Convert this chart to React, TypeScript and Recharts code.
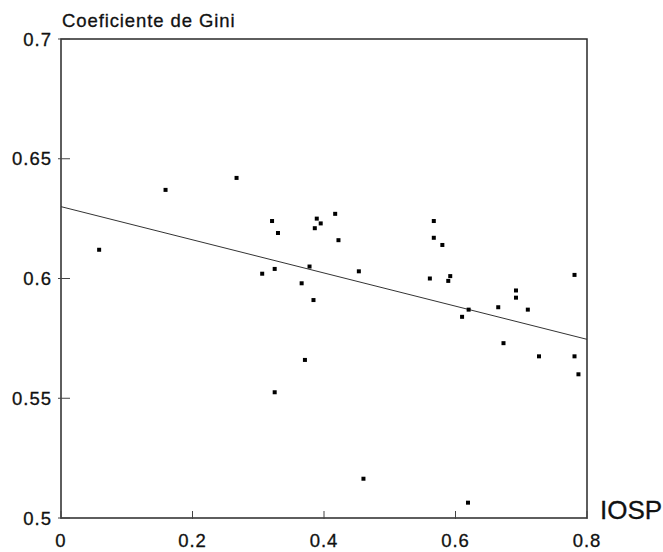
import {
  ScatterChart,
  Scatter,
  XAxis,
  YAxis,
  ReferenceLine,
  ReferenceArea,
} from "recharts";

const iosp = [
  0.058, 0.159, 0.267, 0.306, 0.321, 0.325, 0.325, 0.33, 0.366, 0.371, 0.378,
  0.384, 0.386, 0.389, 0.395, 0.417, 0.422, 0.453, 0.46, 0.561, 0.567, 0.567,
  0.58, 0.589, 0.592, 0.61, 0.619, 0.62, 0.665, 0.673, 0.692, 0.692, 0.71,
  0.727, 0.781, 0.781, 0.787,
];
const gini = [
  0.612, 0.637, 0.642, 0.602, 0.624, 0.604, 0.5525, 0.619, 0.598, 0.566, 0.605,
  0.591, 0.621, 0.625, 0.623, 0.627, 0.616, 0.603, 0.5164, 0.6, 0.624, 0.617,
  0.614, 0.599, 0.601, 0.584, 0.5064, 0.587, 0.588, 0.573, 0.595, 0.592, 0.587,
  0.5675, 0.6015, 0.5675, 0.56,
];
const fitLine = [
  { x: 0, y: 0.63 },
  { x: 0.8, y: 0.5746 },
];
const xTicks = [0, 0.2, 0.4, 0.6, 0.8];
const xTickLabels = ["0", "0.2", "0.4", "0.6", "0.8"];
const yTicks = [0.5, 0.55, 0.6, 0.65, 0.7];
const yTickLabels = ["0.5", "0.55", "0.6", "0.65", "0.7"];

const points = iosp.map((x, i) => ({ x, y: gini[i] }));

const FONT = '"Liberation Sans", Arial, sans-serif';
const INK = "#111";

const XTick = (props: any) => {
  const { x, y, payload } = props;
  const i = xTicks.indexOf(payload.value);
  return (
    <g>
      <line x1={x} y1={y + 1} x2={x} y2={y - 7} stroke="#444" strokeWidth={1} />
      <text
        x={x}
        y={y + 29}
        textAnchor="middle"
        fontFamily={FONT}
        fontSize={18.5}
        letterSpacing={1}
        fill={INK}
        stroke={INK}
        strokeWidth={0.3}
      >
        {xTickLabels[i]}
      </text>
    </g>
  );
};

const YTick = (props: any) => {
  const { x, y, payload } = props;
  const i = yTicks.indexOf(payload.value);
  return (
    <g>
      <line x1={x - 3} y1={y} x2={x + 9} y2={y} stroke="#444" strokeWidth={1} />
      <text
        x={x - 9}
        y={y + 6.5}
        textAnchor="end"
        fontFamily={FONT}
        fontSize={18.5}
        letterSpacing={1}
        fill={INK}
        stroke={INK}
        strokeWidth={0.3}
      >
        {yTickLabels[i]}
      </text>
    </g>
  );
};

const Dot = (props: any) => {
  const { cx, cy } = props;
  return <rect x={cx - 2} y={cy - 2} width={4} height={4} fill="#000" />;
};

export default function App() {
  return (
    <div
      style={{
        position: "absolute",
        left: 0,
        top: 0,
        width: 663,
        height: 552,
        background: "#fff",
      }}
    >
      <ScatterChart
        width={663}
        height={552}
        margin={{ top: 39, right: 76, bottom: 0, left: 0 }}
      >
        <XAxis
          type="number"
          dataKey="x"
          domain={[0, 0.8]}
          ticks={xTicks}
          axisLine={false}
          tickLine={false}
          tickSize={0}
          tickMargin={0}
          height={34}
          tick={<XTick />}
          allowDataOverflow
        />
        <YAxis
          type="number"
          dataKey="y"
          domain={[0.5, 0.7]}
          ticks={yTicks}
          axisLine={false}
          tickLine={false}
          tickSize={0}
          tickMargin={0}
          width={61}
          tick={<YTick />}
          allowDataOverflow
        />
        <ReferenceArea
          x1={0}
          x2={0.8}
          y1={0.5}
          y2={0.7}
          fill="none"
          fillOpacity={0}
          stroke="#2a2a2a"
          strokeWidth={1.5}
        />
        <ReferenceLine segment={fitLine} stroke="#333" strokeWidth={1} />
        <Scatter data={points} shape={<Dot />} isAnimationActive={false} />
      </ScatterChart>
      <svg
        width={663}
        height={552}
        style={{ position: "absolute", left: 0, top: 0, pointerEvents: "none" }}
      >
        <text
          x={62}
          y={26.7}
          fontFamily={FONT}
          fontSize={18.5}
          letterSpacing={0.9}
          fill={INK}
          stroke={INK}
          strokeWidth={0.3}
        >
          Coeficiente de Gini
        </text>
        <text
          x={600}
          y={519}
          fontFamily={FONT}
          fontSize={26}
          fill={INK}
          stroke={INK}
          strokeWidth={0.3}
        >
          IOSP
        </text>
      </svg>
    </div>
  );
}
